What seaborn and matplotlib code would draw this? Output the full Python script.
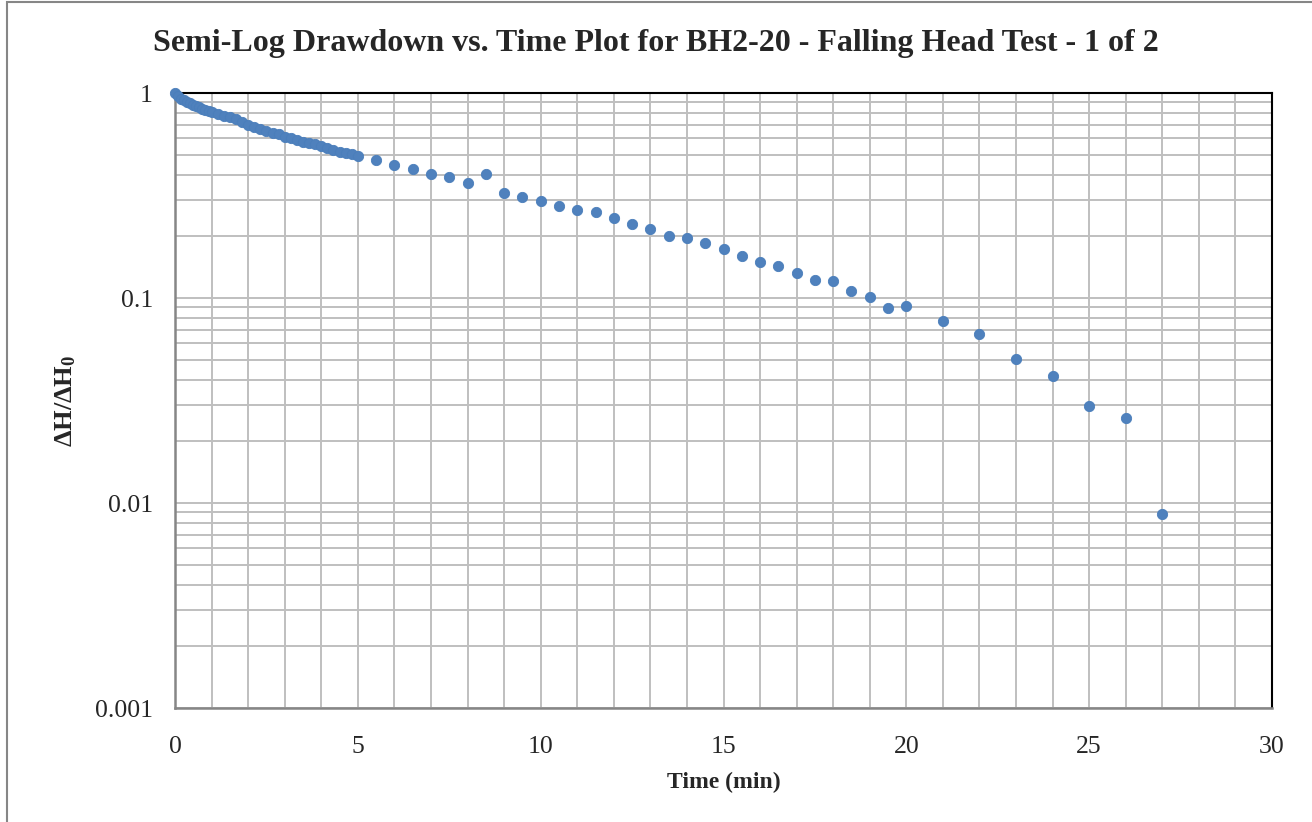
import numpy as np
import pandas as pd
import matplotlib
matplotlib.use('Agg')
import matplotlib.pyplot as plt
import seaborn as sns
from matplotlib.ticker import LogLocator, MultipleLocator, FixedFormatter, NullFormatter
from matplotlib.patches import Rectangle

# elapsed time (min) and normalised head ratio
time_min = [0, 1/12, 2/12, 3/12, 4/12, 5/12, 6/12, 7/12, 8/12, 9/12, 10/12, 11/12, 1.0,
            7/6, 8/6, 9/6, 10/6, 11/6, 2.0, 13/6, 14/6, 15/6, 16/6, 17/6, 3.0,
            19/6, 20/6, 21/6, 22/6, 23/6, 4.0, 25/6, 26/6, 27/6, 28/6, 29/6, 5.0,
            5.5, 6, 6.5, 7, 7.5, 8, 8.5, 9, 9.5, 10, 10.5, 11, 11.5, 12, 12.5, 13,
            13.5, 14, 14.5, 15, 15.5, 16, 16.5, 17, 17.5, 18, 18.5, 19, 19.5, 20,
            21, 22, 23, 24, 25, 26, 27]
head_ratio = [1.0, 0.962, 0.940, 0.922, 0.906, 0.890, 0.876, 0.862, 0.850, 0.838, 0.826, 0.815, 0.805,
              0.790, 0.775, 0.760, 0.745, 0.722, 0.698, 0.686, 0.670, 0.655, 0.641, 0.628, 0.612,
              0.600, 0.592, 0.579, 0.570, 0.562, 0.553, 0.540, 0.527, 0.517, 0.510, 0.502, 0.493,
              0.471, 0.447, 0.424, 0.403, 0.388, 0.3625, 0.403, 0.326, 0.312, 0.298, 0.282, 0.270,
              0.262, 0.246, 0.230, 0.217, 0.2006, 0.1955, 0.1848, 0.1728, 0.1603, 0.1493, 0.1438,
              0.1328, 0.1228, 0.1210, 0.1085, 0.1015, 0.0894, 0.0911,
              0.0772, 0.0670, 0.0502, 0.0415, 0.0298, 0.0260, 0.00887]

y_ticks = [0.001, 0.01, 0.1, 1]
y_tick_labels = ['0.001', '0.01', '0.1', '1']

df = pd.DataFrame({'Time (min)': time_min, 'ratio': head_ratio})

sns.set_style('white')
plt.rcParams['font.family'] = ['Liberation Serif', 'DejaVu Serif']
plt.rcParams['mathtext.fontset'] = 'custom'
plt.rcParams['mathtext.bf'] = 'Liberation Serif:bold'
plt.rcParams['mathtext.rm'] = 'Liberation Serif'
plt.rcParams['mathtext.it'] = 'Liberation Serif:italic'

fig = plt.figure(figsize=(13.12, 8.22), dpi=100)
ax = fig.add_axes([175/1312, 1 - 708/822, (1272 - 175)/1312, (708 - 93)/822])

grid_col = '#BFBFBF'
ax.set_yscale('log')
ax.set_xlim(0, 30)
ax.set_ylim(0.001, 1)

ax.xaxis.set_major_locator(MultipleLocator(5))
ax.xaxis.set_minor_locator(MultipleLocator(1))
ax.yaxis.set_minor_locator(LogLocator(base=10, subs=np.arange(2, 10), numticks=20))
ax.set_yticks(y_ticks)
ax.yaxis.set_major_formatter(FixedFormatter(y_tick_labels))
ax.yaxis.set_minor_formatter(NullFormatter())

ax.grid(True, which='both', color=grid_col, linewidth=1.4)
ax.set_axisbelow(True)

sns.scatterplot(data=df, x='Time (min)', y='ratio', ax=ax, s=55, color='#4F81BD',
                edgecolor='#4A7EBB', linewidth=0.6, zorder=3, clip_on=False)

for side in ['top', 'right']:
    ax.spines[side].set_color('black')
    ax.spines[side].set_linewidth(1.5)
for side in ['left', 'bottom']:
    ax.spines[side].set_color('#868686')
    ax.spines[side].set_linewidth(1.8)

ax.tick_params(axis='both', which='major', labelsize=18.5, length=6, width=1.2,
               color='#868686', direction='out')
ax.tick_params(axis='y', which='major', pad=10)
ax.tick_params(axis='y', which='minor', length=6, width=1.0, color='#868686', direction='out')
ax.tick_params(axis='x', which='minor', length=0)
ax.tick_params(axis='x', which='major', pad=14)

ax.set_xlabel('Time (min)', fontsize=17, fontweight='bold', labelpad=10)
ax.set_ylabel(r'$\mathbf{\Delta H/\Delta H_0}$', fontsize=19, labelpad=12)

fig.text(0.5, 1 - 43/822, 'Semi-Log Drawdown vs. Time Plot for BH2-20 - Falling Head Test - 1 of 2',
         ha='center', va='center', fontsize=23, fontweight='bold')

fig.patches.append(Rectangle((7/1312, -0.1), 1.2, 1.1 - 2/822, transform=fig.transFigure,
                             fill=False, edgecolor='#868686', linewidth=1.5))

fig.savefig('out.png', dpi=100)
